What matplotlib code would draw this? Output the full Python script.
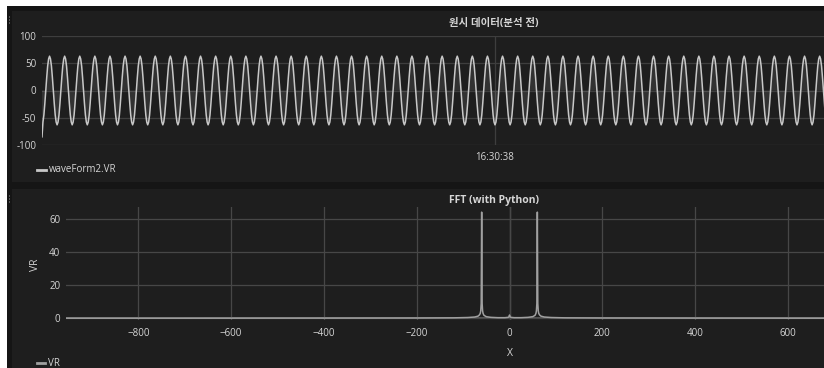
import numpy as np
import matplotlib
matplotlib.use("Agg")
import matplotlib.pyplot as plt
import matplotlib.dates as mdates
from matplotlib.patches import Rectangle
import datetime as dt

plt.rcParams['font.family'] = ['Open Sans', 'Noto Sans CJK KR', 'DejaVu Sans']

# ---------------- data ----------------
# raw waveform: one cycle of samples, repeated over the 1 s window
VR_CYCLE = [-63, -58, -45, -24, 0, 24, 45, 58, 63, 58, 45, 24, 0, -24, -45, -58]
N_CYCLES = 60
VR_FIRST = -85          # first (transient) sample
T_START = dt.datetime(2020, 1, 1, 16, 30, 37, 500000)
T_END = dt.datetime(2020, 1, 1, 16, 30, 38, 500000)
WAVE_LABEL = "waveForm2.VR"
TOP_TITLE = "원시 데이터(분석 전)"
TOP_YTICKS = [-100, -50, 0, 50, 100]

# FFT magnitude spectrum
FFT_FREQ = [-956, -700, -400, -200, -120, -90, -75, -68, -65, -63, -62, -61, -60, -59, -58, -57, -55,
            -50, -40, -25, -10, -3, -1, 0, 1, 3, 10, 25, 40, 50, 55, 57, 58, 59, 60, 61, 62, 63, 65,
            68, 75, 90, 120, 200, 400, 700, 956]
FFT_VR = [0.1, 0.1, 0.15, 0.2, 0.3, 0.5, 0.8, 1.3, 2.0, 3.0, 4.5, 9.0, 64, 9.0, 4.5, 3.0, 1.8,
          1.0, 0.6, 0.4, 0.4, 0.6, 1.0, 2.0, 1.0, 0.6, 0.4, 0.4, 0.6, 1.0, 1.8, 3.0, 4.5, 9.0, 64,
          9.0, 4.5, 3.0, 2.0, 1.3, 0.8, 0.5, 0.3, 0.2, 0.15, 0.1, 0.1]
FFT_TITLE = "FFT (with Python)"
FFT_XTICKS = [-800, -600, -400, -200, 0, 200, 400, 600]
FFT_YTICKS = [0, 20, 40, 60]

# ---------------- figure ----------------
W, H = 824, 368
fig = plt.figure(figsize=(W / 100, H / 100), dpi=100, facecolor="white")

def px_rect(x0, y0, x1, y1, color, z=0):
    fig.patches.append(Rectangle((x0 / W, 1 - y1 / H), (x1 - x0) / W, (y1 - y0) / H,
                                 transform=fig.transFigure, facecolor=color,
                                 edgecolor="none", zorder=z))

OUTER = "#151515"
PANEL = "#1e1e1e"
px_rect(7, 6, W, H, OUTER, -3)
px_rect(12, 11, W, 182, PANEL, -2)
px_rect(12, 189, W, H, PANEL, -2)
# drag handles
for yc in (20, 199):
    for dy in (-3, 0, 3):
        fig.patches.append(Rectangle((8.6 / W, 1 - (yc + dy + 0.8) / H), 1.6 / W, 1.6 / H,
                                     transform=fig.transFigure, facecolor="#555555",
                                     edgecolor="none", zorder=-1))

TXT = "#d6d6d6"
GRID = "#3e3e3e"
LINE = "#c8c8c8"

# ---------- top panel ----------
ax1 = fig.add_axes([42 / W, 1 - 145 / H, 906 / W, 109 / H], zorder=5)
ax1.set_facecolor("none")
vals = np.array(VR_CYCLE * N_CYCLES + [VR_CYCLE[0]], dtype=float)
vals[0] = VR_FIRST
t0 = mdates.date2num(T_START)
t1 = mdates.date2num(T_END)
tt = np.linspace(t0, t1, len(vals))
ax1.plot(tt, vals, color=LINE, lw=1.1, zorder=3)
ax1.fill_between(tt, vals, 0, color="white", alpha=0.09, lw=0, zorder=2)
ax1.set_xlim(t0, t1)
ax1.set_ylim(-100, 100)
ax1.set_yticks(TOP_YTICKS)
ax1.set_yticklabels([str(v) for v in TOP_YTICKS])
ax1.xaxis.set_major_locator(mdates.SecondLocator(interval=1))
ax1.xaxis.set_major_formatter(mdates.DateFormatter("%H:%M:%S"))
ax1.grid(True, color=GRID, lw=0.9)
for s in ax1.spines.values():
    s.set_visible(False)
ax1.tick_params(length=0, colors=TXT, labelsize=7, pad=4)
ax1.tick_params(axis="x", pad=5)
fig.text(494 / W, 1 - 23 / H, TOP_TITLE, ha="center", va="center", color=TXT,
         fontsize=7.5, fontweight="bold")
# legend
fig.add_artist(plt.Line2D([37 / W, 46 / W], [1 - 170 / H, 1 - 170 / H], color=LINE, lw=2,
                          transform=fig.transFigure))
fig.text(49 / W, 1 - 170 / H, WAVE_LABEL, ha="left", va="center", color=TXT, fontsize=7)

# ---------- bottom panel ----------
ax2 = fig.add_axes([66 / W, 1 - 320 / H, 887 / W, 113.2 / H], zorder=5)
ax2.set_facecolor("none")
ax2.plot(FFT_FREQ, FFT_VR, color="#a0a0a0", lw=1.1, zorder=3)
ax2.set_xlim(FFT_FREQ[0], FFT_FREQ[-1])
ax2.set_ylim(-1, 67.2)
ax2.set_xticks(FFT_XTICKS)
ax2.set_xticklabels(["\u2212" + str(-v) if v < 0 else str(v) for v in FFT_XTICKS])
ax2.set_yticks(FFT_YTICKS)
ax2.grid(True, color="#474747", lw=0.9)
ax2.axhline(0, color="#5e5e5e", lw=1.3, zorder=1)
ax2.axvline(0, color="#4e4e4e", lw=1.0, zorder=1)
for s in ax2.spines.values():
    s.set_visible(False)
ax2.tick_params(length=0, colors=TXT, labelsize=7, pad=4)
ax2.tick_params(axis="x", pad=6)
ax2.set_xlabel("X", color=TXT, fontsize=7.5, labelpad=6)
fig.text(35 / W, 1 - 265 / H, "VR", rotation=90, ha="center", va="center", color=TXT, fontsize=7.5)
fig.text(494 / W, 1 - 201 / H, FFT_TITLE, ha="center", va="center", color=TXT,
         fontsize=7.5, fontweight="bold")
fig.add_artist(plt.Line2D([37 / W, 45 / W], [1 - 363 / H, 1 - 363 / H], color="#a0a0a0", lw=2,
                          transform=fig.transFigure))
fig.text(48 / W, 1 - 363 / H, "VR", ha="left", va="center", color=TXT, fontsize=7)

fig.savefig("out.png", dpi=100, facecolor="white")
